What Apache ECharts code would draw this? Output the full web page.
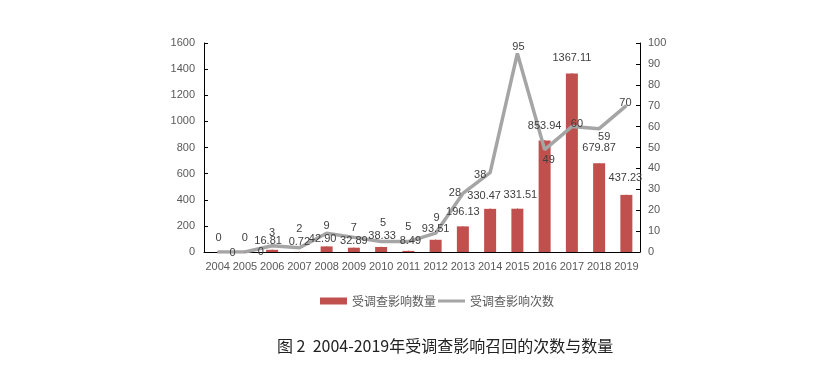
<!DOCTYPE html>
<html><head><meta charset="utf-8">
<script src="https://cdn.jsdelivr.net/npm/echarts@6/dist/echarts.min.js"></script>
<style>html,body{margin:0;padding:0;background:#fff}#c{width:836px;height:365px}</style>
</head><body><div id="c"></div>
<script>
var years = ['2004','2005','2006','2007','2008','2009','2010','2011','2012','2013','2014','2015','2016','2017','2018','2019'];
var amounts = [0, 0, 16.81, 0.72, 42.90, 32.89, 38.33, 8.49, 93.51, 196.13, 330.47, 331.51, 853.94, 1367.11, 679.87, 437.23];
var counts = [0, 0, 3, 2, 9, 7, 5, 5, 9, 28, 38, 95, 49, 60, 59, 70];
var amountLabels = ['0','0','16.81','0.72','42.90','32.89','38.33','8.49','93.51','196.13','330.47','331.51','853.94','1367.11','679.87','437.23'];
var leftTicks = [0, 200, 400, 600, 800, 1000, 1200, 1400, 1600];
var rightTicks = [0, 10, 20, 30, 40, 50, 60, 70, 80, 90, 100];

// label offsets (style only)
var barOff = [[15,12],[16,11],[-4,2],[0,1],[-4,4],[0,4],[1,0],[2,1],[0,0],[0,-3],[-6,-2],[3,-3],[0,-3],[0,-4],[0,-4],[-1,-6]];
var lineOff = [[1,-3],[0,-3],[0,-2],[0,-8],[0,4],[0,2],[2,-8],[0,-4],[1,-4],[-8,10],[-10,13],[1,5],[4,21],[5,8],[5,19],[-1,8]];

var labelFont = 'Liberation Sans';
var chart = echarts.init(document.getElementById('c'));
chart.setOption({
  animation: false,
  textStyle: {fontFamily: labelFont},
  title: {
    text: '图 2  2004-2019年受调查影响召回的次数与数量',
    left: 272, top: 333,
    textStyle: {fontFamily: 'Noto Sans CJK SC', fontSize: 16, fontWeight: 'normal', color: '#222'}
  },
  legend: {
    left: 315, top: 290,
    itemWidth: 27, itemHeight: 7, itemGap: 2,
    textStyle: {fontFamily: 'Noto Sans CJK SC', fontSize: 12, color: '#595959'},
    data: [{name:'受调查影响数量', icon:'rect'},
           {name:'受调查影响次数', icon:'path://M0,0H27V3H0Z', itemStyle: {color: '#A5A5A5'}}]
  },
  grid: {left: 204, right: 196, top: 43, bottom: 113},
  xAxis: {
    type: 'category', data: years,
    axisLine: {lineStyle: {color: '#000', width: 1}},
    axisTick: {show: false},
    axisLabel: {color: '#595959', fontSize: 11, margin: 9, interval: 0}
  },
  yAxis: [{
    type: 'value', min: 0, max: 1600, interval: 200,
    axisLine: {show: true, lineStyle: {color: '#000'}},
    axisTick: {show: true, inside: true, length: 4, lineStyle: {color: '#000'}},
    splitLine: {show: false},
    axisLabel: {color: '#595959', fontSize: 11, margin: 9,
      formatter: function(v){ return leftTicks.indexOf(v) >= 0 ? String(v) : ''; }}
  }, {
    type: 'value', min: 0, max: 100, interval: 10, position: 'right',
    axisLine: {show: true, lineStyle: {color: '#000'}},
    axisTick: {show: true, inside: true, length: 4, lineStyle: {color: '#000'}},
    splitLine: {show: false},
    axisLabel: {color: '#595959', fontSize: 11, margin: 8,
      formatter: function(v){ return rightTicks.indexOf(v) >= 0 ? String(v) : ''; }}
  }],
  series: [{
    name: '受调查影响数量', type: 'bar', yAxisIndex: 0, barWidth: 12,
    itemStyle: {color: '#C0504D'},
    data: amounts,
    z: 2
  }, {
    name: '受调查影响次数', type: 'line', yAxisIndex: 1,
    symbol: 'none',
    lineStyle: {color: '#A5A5A5', width: 3.5},
    itemStyle: {color: '#A5A5A5'},
    data: counts,
    z: 3
  }, {
    name: 'amountLabels', type: 'scatter', yAxisIndex: 0,
    symbolSize: 1, itemStyle: {color: '#C0504D', opacity: 1},
    silent: true,
    data: amounts.map(function(v, i){
      return {value: v, label: {show: true, position: 'top', distance: 5, offset: barOff[i],
        formatter: amountLabels[i], color: '#404040', fontSize: 11}};
    }),
    z: 4
  }, {
    name: 'countLabels', type: 'scatter', yAxisIndex: 1,
    symbolSize: 1, itemStyle: {color: '#A5A5A5', opacity: 1},
    silent: true,
    data: counts.map(function(v, i){
      return {value: v, label: {show: true, position: 'top', distance: 5, offset: lineOff[i],
        color: '#404040', fontSize: 11}};
    }),
    z: 4
  }]
});
</script></body></html>
